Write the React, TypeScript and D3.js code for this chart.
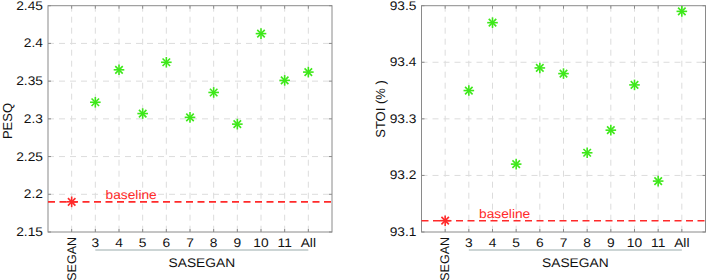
import React from 'react';
import * as d3 from 'd3';

const categories = ['SEGAN', '3', '4', '5', '6', '7', '8', '9', '10', '11', 'All'];
const pesqValues = [2.19, 2.322, 2.365, 2.307, 2.375, 2.302, 2.335, 2.293, 2.413, 2.351, 2.362];
const stoiValues = [93.12, 93.35, 93.47, 93.22, 93.39, 93.38, 93.24, 93.28, 93.36, 93.19, 93.49];
const pesqTicks = [2.15, 2.2, 2.25, 2.3, 2.35, 2.4, 2.45];
const stoiTicks = [93.1, 93.2, 93.3, 93.4, 93.5];

const FONT = '"Liberation Sans", Arial, Helvetica, sans-serif';
const FS = 12.5;
const SX = 1.1; // source image is stretched horizontally

interface PanelProps {
    left: number;
    right: number;
    values: number[];
    ticks: number[];
    yLabel: string;
    labelX: number;
    labelY: number;
}

const Star: React.FC<{ cx: number; cy: number; r: number; color: string }> = ({ cx, cy, r, color }) => {
    const d = r * Math.SQRT1_2;
    return (
        <g stroke={color} strokeWidth={1.6}>
            <line x1={cx - r} x2={cx + r} y1={cy} y2={cy} />
            <line x1={cx} x2={cx} y1={cy - r} y2={cy + r} />
            <line x1={cx - d} x2={cx + d} y1={cy - d} y2={cy + d} />
            <line x1={cx - d} x2={cx + d} y1={cy + d} y2={cy - d} />
        </g>
    );
};

const Panel: React.FC<PanelProps> = ({ left, right, values, ticks, yLabel, labelX, labelY }) => {
    const top = 5.7;
    const bottom = 232;
    const x = d3.scaleLinear().domain([0, categories.length + 1]).range([left, right]);
    const y = d3.scaleLinear().domain(d3.extent(ticks) as [number, number]).range([bottom, top]);
    const frame = '#8a8a8a';
    const grid = '#dcdcdc';
    const red = '#ff2a2a';
    const green = '#3ee81a';
    const baseY = y(values[0]);
    return (
        <g fontFamily={FONT} textRendering="geometricPrecision">
            {categories.map((c, i) => (
                <line key={'gx' + c} x1={x(i + 1)} x2={x(i + 1)} y1={top} y2={bottom}
                    stroke={grid} strokeDasharray="6,5" />
            ))}
            {ticks.slice(1, -1).map(t => (
                <line key={'gy' + t} x1={left} x2={right} y1={y(t)} y2={y(t)}
                    stroke={grid} strokeDasharray="6,5" />
            ))}
            <rect x={left} y={top} width={right - left} height={bottom - top} fill="none" stroke={frame} strokeWidth={1} />
            {categories.map((c, i) => (
                <g key={'tx' + c} stroke={frame}>
                    <line x1={x(i + 1)} x2={x(i + 1)} y1={bottom} y2={bottom - 3} />
                    <line x1={x(i + 1)} x2={x(i + 1)} y1={top} y2={top + 3} />
                </g>
            ))}
            {ticks.map(t => (
                <g key={'ty' + t} stroke={frame}>
                    <line x1={left} x2={left + 3} y1={y(t)} y2={y(t)} />
                    <line x1={right} x2={right - 3} y1={y(t)} y2={y(t)} />
                </g>
            ))}
            {ticks.map(t => (
                <text key={'ly' + t} transform={`translate(${left - 5},${y(t)}) scale(${SX},1)`}
                    textAnchor="end" dominantBaseline="central" fontSize={FS} fill="#111">
                    {d3.format('~g')(t)}
                </text>
            ))}
            {categories.map((c, i) => i === 0 ? (
                <text key={'lx' + c} transform={`translate(${x(i + 1)},237) rotate(-90)`}
                    textAnchor="end" dominantBaseline="central" fontSize={FS} fill="#111">{c}</text>
            ) : (
                <text key={'lx' + c} transform={`translate(${x(i + 1)},243) scale(${SX},1)`}
                    textAnchor="middle" dominantBaseline="central" fontSize={FS} fill="#111">{c}</text>
            ))}
            <line x1={x(2)} x2={x(categories.length)} y1={250} y2={250} stroke="#9aabab" strokeWidth={1} />
            <text transform={`translate(${(x(2) + x(categories.length)) / 2},263) scale(${SX},1)`}
                textAnchor="middle" dominantBaseline="central" fontSize={FS} fill="#111">SASEGAN</text>
            <text transform={`translate(${labelX},${labelY}) rotate(-90)`}
                textAnchor="middle" dominantBaseline="central" fontSize={FS + 0.5} fill="#111">{yLabel}</text>
            <line x1={left} x2={right} y1={baseY} y2={baseY} stroke={red} strokeWidth={1.6} strokeDasharray="7,4.5" />
            <text transform={`translate(${x(2.43)},${baseY - 2.5}) scale(${SX},1)`}
                fontSize={FS} fill={red}>baseline</text>
            {values.map((v, i) => (
                <Star key={'m' + i} cx={x(i + 1)} cy={y(v)} r={5.3} color={i === 0 ? red : green} />
            ))}
        </g>
    );
};

const App: React.FC = () => (
    <svg width={706} height={280} style={{ position: 'absolute', left: 0, top: 0, background: '#fff' }}>
        <Panel left={48} right={332} values={pesqValues} ticks={pesqTicks} yLabel="PESQ" labelX={7.5} labelY={121} />
        <Panel left={421.5} right={705.5} values={stoiValues} ticks={stoiTicks} yLabel="STOI (% )" labelX={380.5} labelY={109} />
    </svg>
);

export default App;
